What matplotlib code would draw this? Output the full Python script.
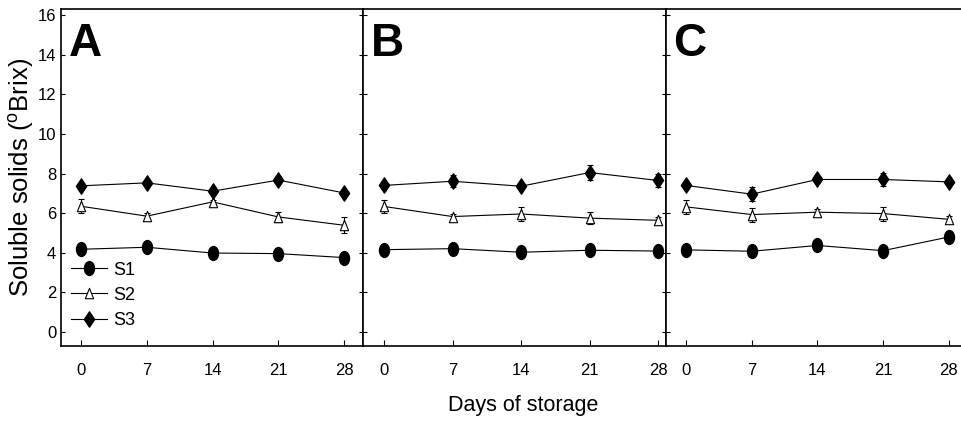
import matplotlib

matplotlib.use("Agg")
import matplotlib.pyplot as plt
from matplotlib.lines import Line2D
from matplotlib.path import Path

plt.rcParams["font.family"] = ["Liberation Sans", "DejaVu Sans"]

DAYS = [0, 7, 14, 21, 28]
PANELS = ["A", "B", "C"]
SERIES = ["S1", "S2", "S3"]

# soluble solids (°Brix), one list per panel and series
S1 = [
    [4.18, 4.28, 3.99, 3.96, 3.76],
    [4.16, 4.21, 4.03, 4.13, 4.09],
    [4.15, 4.08, 4.37, 4.11, 4.80],
]
S2 = [
    [6.35, 5.85, 6.57, 5.81, 5.39],
    [6.34, 5.83, 5.96, 5.75, 5.64],
    [6.32, 5.93, 6.05, 5.98, 5.69],
]
S3 = [
    [7.38, 7.53, 7.11, 7.67, 7.02],
    [7.40, 7.61, 7.36, 8.05, 7.65],
    [7.40, 6.96, 7.70, 7.70, 7.58],
]
S1_ERR = [
    [0.10, 0.12, 0.10, 0.10, 0.12],
    [0.10, 0.12, 0.10, 0.10, 0.10],
    [0.10, 0.10, 0.12, 0.10, 0.12],
]
S2_ERR = [
    [0.35, 0.15, 0.10, 0.25, 0.40],
    [0.35, 0.15, 0.35, 0.30, 0.15],
    [0.35, 0.35, 0.15, 0.35, 0.15],
]
S3_ERR = [
    [0.10, 0.12, 0.10, 0.15, 0.10],
    [0.12, 0.30, 0.10, 0.40, 0.35],
    [0.12, 0.35, 0.10, 0.35, 0.12],
]

INK = "black"

# tall markers, as in the original plotting package
_c = Path.unit_circle()
OVAL = Path(_c.vertices * [0.72, 1.0], _c.codes)
DIAMOND = Path([(0, 1), (0.67, 0), (0, -1), (-0.67, 0), (0, 1)], closed=True)
TRI = Path([(0, 1), (0.8, -1), (-0.8, -1), (0, 1)], closed=True)

STYLE = {
    "S1": dict(marker=OVAL, ms=10, mfc=INK, mec=INK),
    "S2": dict(marker=TRI, ms=7.5, mfc="white", mec=INK, mew=0.8),
    "S3": dict(marker=DIAMOND, ms=11, mfc=INK, mec=INK),
}

fig = plt.figure(figsize=(9.62, 4.28), dpi=100)

# axes boxes in pixels: left edge, right edge, x-limits
boxes = [(61, 363, (-2.13, 30.0)), (363, 666, (-2.14, 28.8)), (666, 962, (-2.13, 29.4))]
bot, top = 346, 9
W, H = 962, 428

for i, (x0, x1, xl) in enumerate(boxes):
    ax = fig.add_axes([x0 / W, 1 - bot / H, (x1 - x0) / W, (bot - top) / H])
    kw = dict(color=INK, lw=0.8, ecolor=INK, elinewidth=0.8, capsize=2.5, capthick=0.8)
    for name, ys, es in zip(SERIES, (S1, S2, S3), (S1_ERR, S2_ERR, S3_ERR)):
        ax.errorbar(DAYS, ys[i], yerr=es[i], **STYLE[name], **kw)
    ax.set_xlim(*xl)
    ax.set_ylim(-0.7, 16.3)
    ax.set_xticks(DAYS)
    ax.set_yticks(range(0, 17, 2))
    ax.tick_params(axis="x", direction="in", length=4, width=0.8, labelsize=12, pad=12)
    ax.tick_params(axis="y", direction="in", length=3, width=0.8, labelsize=12,
                   right=(i < 2), left=True)
    if i > 0:
        ax.tick_params(axis="y", labelleft=False)
    for s in ax.spines.values():
        s.set_linewidth(1.2)
    if i == 2:
        ax.spines["right"].set_visible(False)
    ax.text(0.025, 0.96, PANELS[i], transform=ax.transAxes, fontsize=33,
            fontweight="bold", va="top", ha="left")
    if i == 0:
        handles = [Line2D([], [], color=INK, lw=0.8, **STYLE[n]) for n in SERIES]
        ax.legend(handles, SERIES, loc="lower left", bbox_to_anchor=(0.02, 0.04),
                  frameon=False, fontsize=13, handlelength=2.0, handletextpad=0.35,
                  labelspacing=0.45, borderaxespad=0, borderpad=0.2)

fig.text(21 / W, 1 - 177 / H, "Soluble solids ($^{\\mathregular{o}}$Brix)",
         rotation=90, ha="center", va="center", fontsize=18.5)
fig.text(523 / W, 1 - 405 / H, "Days of storage", ha="center", va="center",
         fontsize=15.5)

fig.savefig("out.png", dpi=100)
